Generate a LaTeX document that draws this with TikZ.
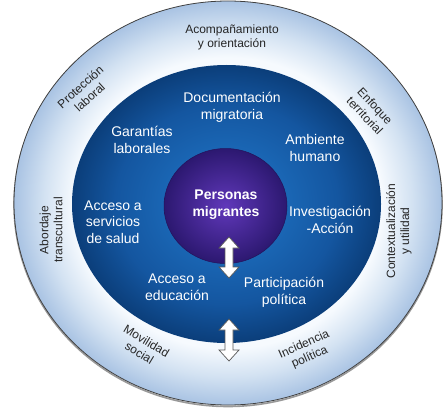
\documentclass[tikz,border=0pt]{standalone}
\usepackage{fontspec}
\setmainfont{Liberation Sans}
\definecolor{ringblue}{HTML}{A9C3E3}
\definecolor{ringmid}{HTML}{D3E2F2}
\definecolor{ringwhite}{HTML}{F6FAFE}
\definecolor{midc}{HTML}{1A66B4}
\definecolor{midm}{HTML}{1456A0}
\definecolor{mide}{HTML}{0B3E7A}
\definecolor{purc}{HTML}{6038BA}
\definecolor{pure}{HTML}{2C1870}
\pgfdeclareradialshading{outerring}{\pgfpoint{0bp}{0bp}}{color(0bp)=(ringwhite); color(18bp)=(ringwhite); color(21.5bp)=(ringmid); color(25bp)=(ringblue); color(50bp)=(ringblue)}
\pgfdeclareradialshading{midblue}{\pgfpoint{0bp}{0bp}}{color(0bp)=(midc); color(10bp)=(midc); color(18bp)=(midm); color(25bp)=(mide); color(50bp)=(mide)}
\pgfdeclareradialshading{purshade}{\pgfpoint{0bp}{0bp}}{color(0bp)=(purc); color(25bp)=(pure); color(50bp)=(pure)}
\begin{document}
\begin{tikzpicture}[x=1pt,y=-1pt,
  outertxt/.style={font=\fontsize{12}{14}\selectfont, align=center, text=black!85, inner sep=0pt},
  midtxt/.style={font=\fontsize{14}{16.7}\selectfont, align=center, text=white, inner sep=0pt},
  coretxt/.style={font=\fontsize{14}{16.7}\selectfont\bfseries, align=center, text=white, inner sep=0pt},
  arrowbox/.style={fill=white, draw=black!65, line width=0.7pt, line join=miter}]
\useasboundingbox (0,0) rectangle (446,409);
% rings
\path[draw=black!40, line width=1.6pt] (228,204.5) ellipse [x radius=214, y radius=202];
\path[shading=outerring, draw=black!75, line width=0.8pt] (228,203) ellipse [x radius=214, y radius=202];
\path[shading=midblue] (226.5,204) ellipse [x radius=154.5, y radius=139];
\path[shading=purshade, draw=pure!80!black, line width=0.5pt] (225.5,206) ellipse [x radius=61.5, y radius=57.5];
% core text
\node[coretxt] (core) at (226,205) {Personas\\migrantes};
% middle ring texts
\node[midtxt] (doc) at (232,107) {Documentación\\migratoria};
\node[midtxt] (gar) at (142,140) {Garantías\\laborales};
\node[midtxt] (amb) at (315,148) {Ambiente\\humano};
\node[midtxt] (sal) at (113,222) {Acceso a\\servicios\\de salud};
\node[midtxt] (inv) at (330,220) {Investigación\\-Acción};
\node[midtxt] (edu) at (177,287) {Acceso a\\educación};
\node[midtxt] (par) at (284,292) {Participación\\política};
% outer ring texts
\node[outertxt] (aco) at (232,37) {Acompañamiento\\y orientación};
\node[outertxt, rotate=42] (pro) at (85,92) {Protección\\laboral};
\node[outertxt, rotate=-47] (enf) at (370,111) {Enfoque\\territorial};
\node[outertxt, rotate=90] (abo) at (51,230) {Abordaje\\transcultural};
\node[outertxt, rotate=90] (con) at (399,231) {Contextualización\\y utilidad};
\node[outertxt, rotate=-31] (mov) at (143,347) {Movilidad\\social};
\node[outertxt, rotate=24] (inc) at (307,351) {Incidencia\\política};
% double arrows
\coordinate (a1) at (229,237);
\coordinate (a2) at (229,319);
\draw[arrowbox] (a1) -- ++(10,11) -- ++(-6,0) -- ++(0,19) -- ++(6,0) -- ++(-10,11) -- ++(-10,-11) -- ++(6,0) -- ++(0,-19) -- ++(-6,0) -- cycle;
\draw[arrowbox] (a2) -- ++(10,11) -- ++(-6,0) -- ++(0,20) -- ++(6,0) -- ++(-10,11) -- ++(-10,-11) -- ++(6,0) -- ++(0,-20) -- ++(-6,0) -- cycle;
\end{tikzpicture}
\end{document}
